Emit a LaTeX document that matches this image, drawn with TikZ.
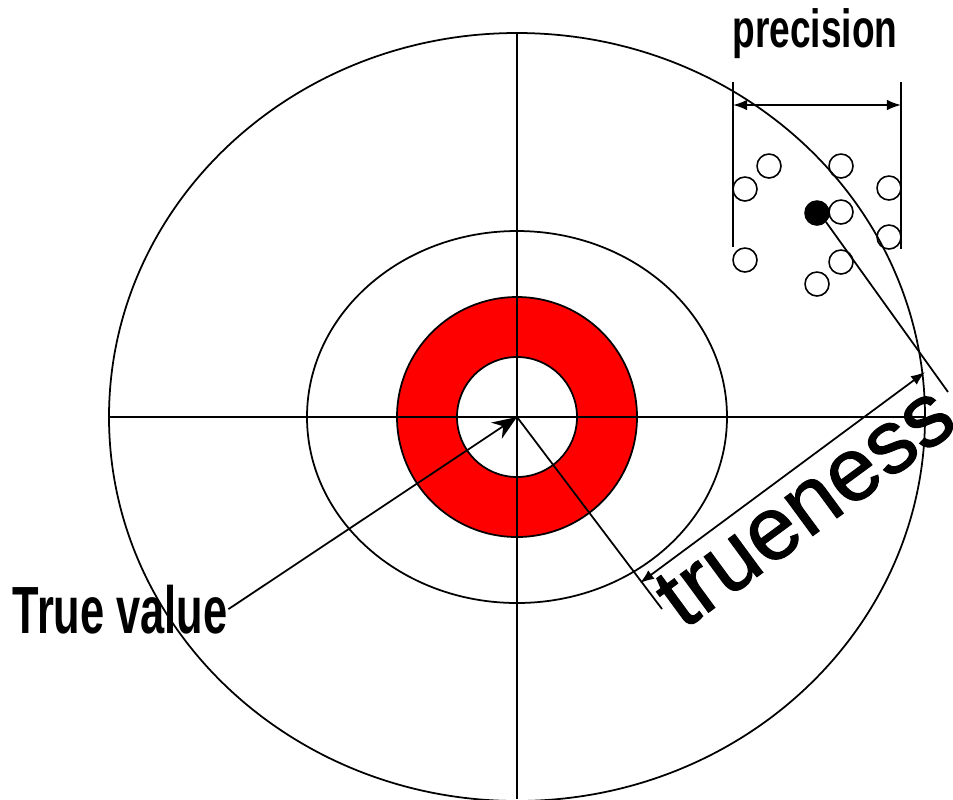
\documentclass[tikz,border=0pt]{standalone}
\usepackage{fontspec}
\setmainfont{Liberation Sans}
\usetikzlibrary{arrows.meta}

\begin{document}
\begin{tikzpicture}[x=0.02cm, y=-0.02cm, line width=1pt,
        shot/.style={circle, draw, line width=0.9pt, inner sep=0pt, minimum size=0.48cm},
        hit/.style={shot, fill=black},
        dimline/.style={{Latex[length=8pt,width=6pt]}-{Latex[length=8pt,width=6pt]}}]
    \useasboundingbox (0,0) rectangle (953,799);
    \coordinate (c) at (517,417);
    % target rings
    \draw (c) ellipse [x radius=408, y radius=384];
    \draw (c) ellipse [x radius=210, y radius=186];
    \draw[fill=red, even odd rule] (c) circle [radius=120] (c) circle [radius=60];
    % cross hairs
    \draw (517,33) -- (517,799);
    \draw (109,417) -- (925,417);
    % shots
    \foreach \px/\py [count=\i] in {769/166, 745/189, 841/166, 889/188, 841/212,
            889/237, 745/260, 841/262, 817/284} {
        \node[shot] (s\i) at (\px,\py) {};
    }
    \node[hit] (hit) at (817,213) {};
    % precision bracket
    \coordinate (pl) at (733,82);
    \coordinate (pr) at (901,82);
    \draw (pl) -- (733,247);
    \draw (pr) -- (901,249);
    \draw[dimline] (733,105) -- (901,105);
    \node[anchor=base, inner sep=0pt, font=\fontsize{30.6}{32}\selectfont\bfseries] (precision)
        at (815,47) {\scalebox{0.69}[1]{precision}};
    % trueness
    \coordinate (t1) at (662,609);
    \coordinate (t2) at (948,392);
    \draw (c) -- (t1);
    \draw (hit.south east) -- (t2);
    \coordinate (ta) at (640,583);
    \coordinate (tb) at (925,372);
    \draw[dimline] (ta) -- (tb);
    \node[rotate=36.3, inner sep=0pt, font=\fontsize{51}{54}\selectfont\addfontfeature{FakeBold=1.2}] (trueness)
        at (805,506) {trueness};
    % true value
    \node[anchor=base west, inner sep=0pt, font=\fontsize{38}{40}\selectfont\bfseries] (truevalue)
        at (12,633) {\scalebox{0.65}[1]{True value}};
    \draw[-{Stealth[length=14pt,width=11pt]}] (truevalue.east) -- (c);
\end{tikzpicture}
\end{document}
